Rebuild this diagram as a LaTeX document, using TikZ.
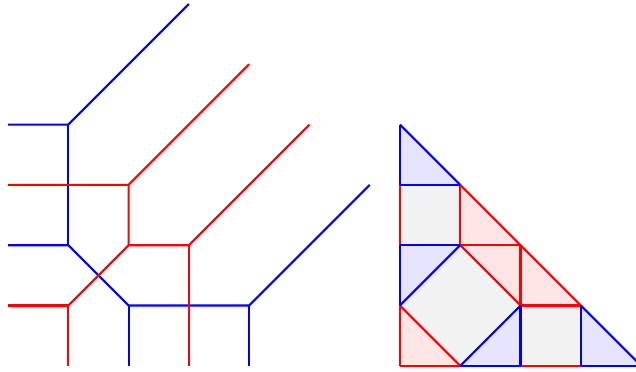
\documentclass[tikz,border=0pt]{standalone}
\begin{document}
\begin{tikzpicture}[x=1cm,y=-1cm,line width=1pt,line join=round,
  bl/.style={draw=blue}, rd/.style={draw=red},
  bf/.style={fill=blue!10}, rf/.style={fill=red!10}, gf/.style={fill=black!5}]
\useasboundingbox (-0.1327,-0.0663) rectangle (10.4146,6.1028);
\foreach \i in {0,...,6}{\foreach \j in {0,...,6}{\coordinate (l\i\j) at (\i,\j);}}
\foreach \i in {0,...,4}{\foreach \j in {2,...,6}{\coordinate (r\i\j) at (6.5+\i,\j);}}
% left figure
\draw[bl] (l02) -- (l12) -- (l30);
\draw[bl] (l12) -- (l14);
\draw[bl] (l04) -- (l14) -- (l25) -- (l45) -- (l63);
\draw[bl] (l25) -- (l26);
\draw[bl] (l45) -- (l46);
\draw[rd] (l03) -- (l23) -- (l41);
\draw[rd] (l23) -- (l24) -- (l34) -- (l52);
\draw[rd] (l34) -- (l36);
\draw[rd] (l24) -- (l15);
\draw[rd] (l05) -- (l15) -- (l16);
% right figure fills
\fill[bf] (r02) -- (r03) -- (r13) -- cycle;
\fill[gf] (r03) -- (r13) -- (r14) -- (r04) -- cycle;
\fill[rf] (r13) -- (r14) -- (r24) -- cycle;
\fill[bf] (r04) -- (r14) -- (r05) -- cycle;
\fill[gf] (r14) -- (r25) -- (r16) -- (r05) -- cycle;
\fill[rf] (r14) -- (r24) -- (r25) -- cycle;
\fill[rf] (r24) -- (r25) -- (r35) -- cycle;
\fill[rf] (r05) -- (r06) -- (r16) -- cycle;
\fill[bf] (r25) -- (r16) -- (r26) -- cycle;
\fill[gf] (r25) -- (r35) -- (r36) -- (r26) -- cycle;
\fill[bf] (r35) -- (r36) -- (r46) -- cycle;
% right figure edges
\draw[rd] (r03) -- (r04);
\draw[rd] (r13) -- (r14);
\draw[rd] (r13) -- (r24);
\draw[rd] (r14) -- (r24);
\draw[rd] (r14) -- (r25);
\draw[rd] (r24) -- (r25);
\draw[rd] (r24) -- (r35);
\draw[rd] (r25) -- (r35);
\draw[rd] (r05) -- (r16);
\draw[rd] (r05) -- (r06);
\draw[rd] (r06) -- (r16);
\draw[rd] (r26) -- (r36);
\draw[bl] (r02) -- (r03);
\draw[bl] (r02) -- (r13);
\draw[bl] (r03) -- (r13);
\draw[bl] (r04) -- (r14);
\draw[bl] (r04) -- (r05);
\draw[bl] (r14) -- (r05);
\draw[bl] (r25) -- (r16);
\draw[bl] (r25) -- (r26);
\draw[bl] (r16) -- (r26);
\draw[bl] (r35) -- (r36);
\draw[bl] (r35) -- (r46);
\draw[bl] (r36) -- (r46);
\end{tikzpicture}
\end{document}
